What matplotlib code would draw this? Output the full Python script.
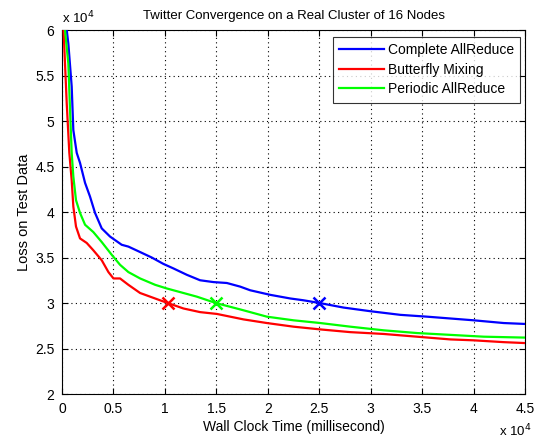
import matplotlib
matplotlib.use("Agg")
import matplotlib.pyplot as plt
from matplotlib.ticker import FuncFormatter, MultipleLocator

plt.rcParams["font.family"] = ["Liberation Sans", "DejaVu Sans"]

# data (time in ms, loss)
t_blue = [457, 615, 940, 1100, 1430, 1750, 2240, 2720, 3210, 3860, 4670, 5800, 6450,
          7590, 8720, 9850, 10830, 12130, 13420, 14720, 16020, 17320, 18290, 20230,
          22180, 23470, 25030, 27360, 29960, 32880, 35480, 37740, 40010, 42930, 45000]
l_blue = [6.0, 5.85, 5.38, 4.90, 4.65, 4.54, 4.32, 4.17, 3.99, 3.82, 3.73, 3.64, 3.62,
          3.56, 3.50, 3.43, 3.38, 3.31, 3.25, 3.23, 3.22, 3.18, 3.14, 3.09,
          3.05, 3.03, 3.00, 2.95, 2.91, 2.87, 2.85, 2.83, 2.81, 2.78, 2.77]

t_red = [150, 460, 710, 940, 1100, 1360, 1750, 2400, 3040, 3860, 4510, 5000, 5640,
         6450, 7590, 8560, 9530, 10280, 11800, 13420, 15050, 17640, 19910, 22500,
         25100, 28020, 31260, 34500, 37740, 40010, 42930, 45000]
l_red = [6.0, 5.19, 4.65, 4.35, 4.06, 3.84, 3.71, 3.66, 3.58, 3.47, 3.34, 3.27, 3.27,
         3.20, 3.11, 3.07, 3.03, 3.00, 2.94, 2.90, 2.88, 2.82, 2.78, 2.74,
         2.71, 2.68, 2.66, 2.63, 2.60, 2.59, 2.57, 2.56]

t_green = [290, 615, 780, 940, 1100, 1360, 1750, 2240, 3040, 3860, 4830, 5640, 6450,
           7590, 9050, 10180, 11480, 13100, 14950, 17640, 19910, 22500, 25100, 28020,
           31260, 34500, 37740, 40980, 45000]
l_green = [6.0, 5.63, 5.12, 4.65, 4.39, 4.13, 3.99, 3.86, 3.78, 3.67, 3.53, 3.42, 3.34,
           3.27, 3.20, 3.16, 3.12, 3.07, 3.00, 2.92, 2.85, 2.81, 2.78, 2.74,
           2.70, 2.67, 2.65, 2.63, 2.62]

# crossing markers at loss = 3e4
mark_t = [25000, 10300, 15000]
mark_l = [3.0, 3.0, 3.0]

names = ["Complete AllReduce", "Butterfly Mixing", "Periodic AllReduce"]
colors = ["#0000ff", "#ff0000", "#00ff00"]

fig = plt.figure(figsize=(5.36, 4.4), dpi=100)
fig.patch.set_facecolor("white")
ax = fig.add_axes([0.1157, 0.1045, 0.8638, 0.8273])

series = [(t_blue, l_blue), (t_red, l_red), (t_green, l_green)]
for (t, l), c, n in zip(series, colors, names):
    ax.plot(t, [v * 1e4 for v in l], color=c, lw=1.6, label=n, zorder=3)
for t, l, c in zip(mark_t, mark_l, colors):
    ax.plot([t], [l * 1e4], marker="x", color=c, ms=9, mew=1.8, ls="none", zorder=4)

ax.set_xlim(0, 45000)
ax.set_ylim(20000, 60000)
ax.xaxis.set_major_locator(MultipleLocator(5000))
ax.yaxis.set_major_locator(MultipleLocator(5000))
fmt = FuncFormatter(lambda v, p: f"{v / 1e4:g}")
ax.xaxis.set_major_formatter(fmt)
ax.yaxis.set_major_formatter(fmt)
ax.tick_params(direction="in", length=4, width=0.8, top=True, right=True,
               labelsize=10, pad=5.5)
ax.grid(True, color="black", linestyle=(0, (1, 3)), linewidth=0.8)
for sp in ax.spines.values():
    sp.set_linewidth(0.8)

ax.set_title("Twitter Convergence on a Real Cluster of 16 Nodes", fontsize=9.5, pad=8)
ax.set_xlabel("Wall Clock Time (millisecond)", fontsize=10, labelpad=3)
ax.set_ylabel("Loss on Test Data", fontsize=10.5, labelpad=3)

ax.text(0.0, 1.01, r"x 10$^4$", transform=ax.transAxes, fontsize=9.5, va="bottom", ha="left")
fig.text(532 / 536, 4 / 440, r"x 10$^4$", fontsize=9.5, va="baseline", ha="right")

leg = ax.legend(loc="upper right", bbox_to_anchor=(0.990, 0.981), borderaxespad=0,
                fontsize=10, frameon=True, fancybox=False, edgecolor="black",
                handlelength=3.2, handletextpad=0.3, borderpad=0.45, labelspacing=0.4)
leg.get_frame().set_linewidth(0.8)
for ln in leg.get_lines():
    ln.set_linewidth(1.6)

fig.savefig("out.png", dpi=100)
